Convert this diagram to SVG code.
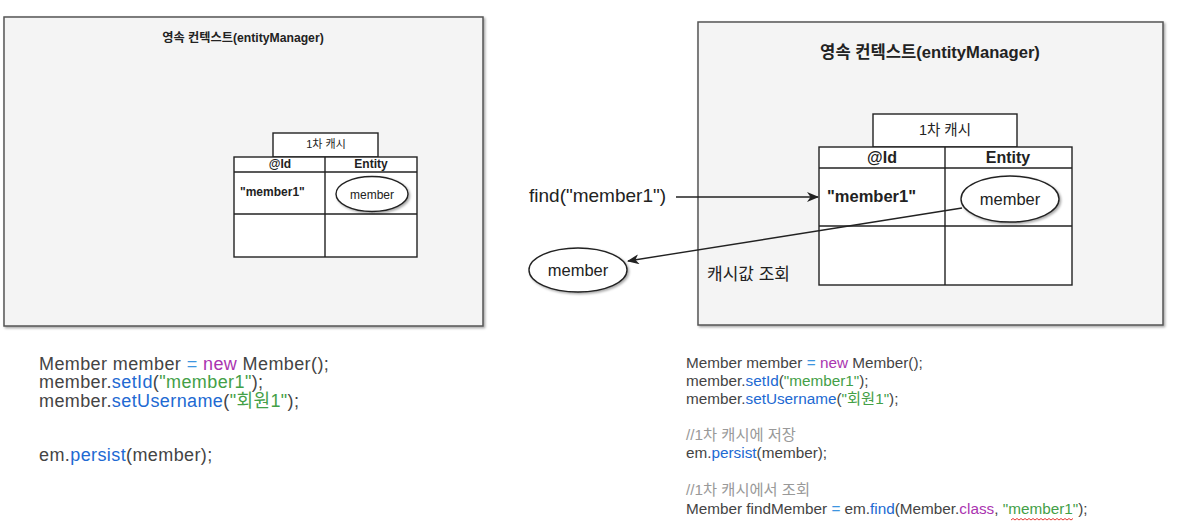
<svg xmlns="http://www.w3.org/2000/svg" width="1178" height="532" viewBox="0 0 1178 532">
<style>
.panel{fill:#f4f4f4;stroke:#555;stroke-width:1.5}
.cell{fill:#fff;stroke:#222;stroke-width:1.4}
.ln{stroke:#222;stroke-width:1.4;fill:none}
.ell{fill:#fff;stroke:#222;stroke-width:1.4}
.t{font-family:"Liberation Sans","Noto Sans CJK KR",sans-serif;fill:#222}
.b{font-weight:bold}
.code{font-family:"Liberation Sans","Noto Sans CJK KR",sans-serif;fill:#444}
.op{fill:#3d95e0}
.kw{fill:#aa34b0}
.fn{fill:#2169d2}
.str{fill:#43a047}
.cm{fill:#999}
.conn{stroke:#222;stroke-width:1.4;fill:none}
</style>
<defs>
<filter id="sh" x="-5%" y="-5%" width="115%" height="115%">
<feDropShadow dx="1.5" dy="1.5" stdDeviation="1" flood-color="#000" flood-opacity="0.35"/>
</filter>
<marker id="arr" markerWidth="12" markerHeight="10" refX="11" refY="5" orient="auto" markerUnits="userSpaceOnUse">
<path d="M0,0 L12,5 L0,10 L3.5,5 z" fill="#222"/>
</marker>
</defs>

<g id="left-panel">
<rect class="panel" x="4" y="17" width="479" height="309" filter="url(#sh)"/>
<text class="t b" x="243" y="42" font-size="12.2" text-anchor="middle">영속 컨텍스트(entityManager)</text>
</g>
<g id="left-cache">
<rect class="cell" x="273" y="133" width="105" height="24"/>
<text class="t" x="326" y="148" font-size="11" text-anchor="middle">1차 캐시</text>
<rect class="cell" x="234" y="157" width="183" height="100"/>
<line class="ln" x1="234" y1="172" x2="417" y2="172"/>
<line class="ln" x1="234" y1="214" x2="417" y2="214"/>
<line class="ln" x1="325" y1="157" x2="325" y2="257"/>
<text class="t b" x="280" y="168" font-size="12" text-anchor="middle">@Id</text>
<text class="t b" x="371" y="168" font-size="12" text-anchor="middle">Entity</text>
<text class="t b" x="240" y="196" font-size="12">"member1"</text>
</g>
<g id="left-member">
<ellipse class="ell" cx="372" cy="194" rx="36" ry="17.5" filter="url(#sh)"/>
<text class="t" x="372" y="199" font-size="12" text-anchor="middle">member</text>
</g>

<g id="right-panel">
<rect class="panel" x="698" y="22" width="465" height="303" filter="url(#sh)"/>
<text class="t b" x="930" y="58" font-size="16.6" text-anchor="middle">영속 컨텍스트(entityManager)</text>
<text class="t" x="707" y="280" font-size="17">캐시값 조회</text>
</g>
<g id="right-cache">
<rect class="cell" x="873" y="114" width="144" height="33"/>
<text class="t" x="945" y="135" font-size="14.5" text-anchor="middle">1차 캐시</text>
<rect class="cell" x="819" y="147" width="253" height="138"/>
<line class="ln" x1="819" y1="168" x2="1072" y2="168"/>
<line class="ln" x1="819" y1="226" x2="1072" y2="226"/>
<line class="ln" x1="945" y1="147" x2="945" y2="285"/>
<text class="t b" x="882" y="163" font-size="16" text-anchor="middle">@Id</text>
<text class="t b" x="1008" y="163" font-size="16" text-anchor="middle">Entity</text>
<text class="t b" x="827" y="202" font-size="16.5">"member1"</text>
</g>
<g id="right-member">
<ellipse class="ell" cx="1010" cy="199" rx="49" ry="23" filter="url(#sh)"/>
<text class="t" x="1010" y="205" font-size="16.5" text-anchor="middle">member</text>
</g>

<g id="find-label">
<text class="t" x="529" y="202" font-size="19">find("member1")</text>
</g>
<g id="result-member">
<ellipse class="ell" cx="578" cy="270" rx="49" ry="22" filter="url(#sh)"/>
<text class="t" x="578" y="276" font-size="16.5" text-anchor="middle">member</text>
</g>

<g id="connectors">
<line class="conn" x1="676" y1="197" x2="818" y2="197" marker-end="url(#arr)"/>
<line class="conn" x1="962" y1="208" x2="628" y2="261" marker-end="url(#arr)"/>
</g>

<g id="left-code" font-size="18" letter-spacing="0.4">
<text class="code" x="39" y="369.5">Member member <tspan class="op">=</tspan> <tspan class="kw">new</tspan> Member();</text>
<text class="code" x="39" y="388">member.<tspan class="fn">setId</tspan>(<tspan class="str">"member1"</tspan>);</text>
<text class="code" x="39" y="406.5">member.<tspan class="fn">setUsername</tspan>(<tspan class="str">"회원1"</tspan>);</text>
<text class="code" x="39" y="461">em.<tspan class="fn">persist</tspan>(member);</text>
</g>

<g id="right-code" font-size="15.3">
<text class="code" x="686" y="368">Member member <tspan class="op">=</tspan> <tspan class="kw">new</tspan> Member();</text>
<text class="code" x="686" y="386">member.<tspan class="fn">setId</tspan>(<tspan class="str">"member1"</tspan>);</text>
<text class="code" x="686" y="404">member.<tspan class="fn">setUsername</tspan>(<tspan class="str">"회원1"</tspan>);</text>
<text class="code cm" x="686" y="440">//1차 캐시에 저장</text>
<text class="code" x="686" y="458">em.<tspan class="fn">persist</tspan>(member);</text>
<text class="code cm" x="686" y="495">//1차 캐시에서 조회</text>
<text class="code" x="686" y="514">Member findMember <tspan class="op">=</tspan> em.<tspan class="fn">find</tspan>(Member.<tspan class="kw">class</tspan>, <tspan class="str">"member1"</tspan>);</text>
<path d="M1011,520 l2,-1.5 l2,1.5 l2,-1.5 l2,1.5 l2,-1.5 l2,1.5 l2,-1.5 l2,1.5 l2,-1.5 l2,1.5 l2,-1.5 l2,1.5 l2,-1.5 l2,1.5 l2,-1.5 l2,1.5 l2,-1.5 l2,1.5 l2,-1.5 l2,1.5 l2,-1.5 l2,1.5 l2,-1.5 l2,1.5 l2,-1.5 l2,1.5 l2,-1.5 l2,1.5 l2,-1.5 l2,1.5 l2,-1.5" fill="none" stroke="#e53935" stroke-width="1"/>
</g>
</svg>
